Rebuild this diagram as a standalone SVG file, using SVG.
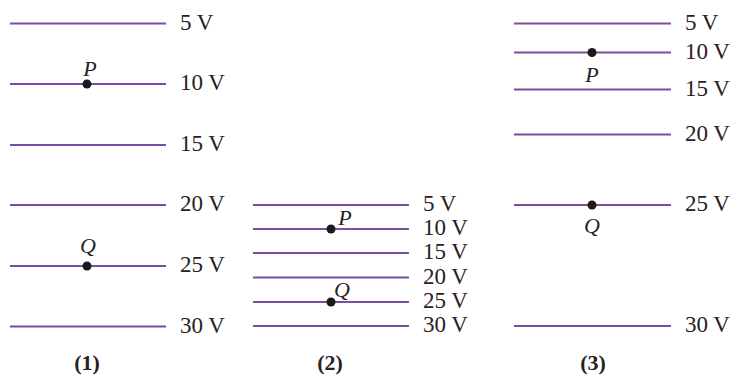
<svg xmlns="http://www.w3.org/2000/svg" width="731" height="375" viewBox="0 0 731 375">
<style>
.ln{stroke:#7a4fa2;stroke-width:2.2;fill:none}
.lb{font-family:"Liberation Serif",serif;font-size:23px;fill:#2a211e}
.it{font-family:"Liberation Serif",serif;font-size:22px;font-style:italic;fill:#2a211e}
.cap{font-family:"Liberation Serif",serif;font-size:22px;font-weight:bold;fill:#2a211e}
.dot{fill:#1a1a1a}
</style>
<rect width="731" height="375" fill="#fff"/>
<g id="panel1">
<g class="ln">
<line x1="10" y1="23.5" x2="166" y2="23.5"/>
<line x1="10" y1="84" x2="166" y2="84"/>
<line x1="10" y1="145" x2="166" y2="145"/>
<line x1="10" y1="205" x2="166" y2="205"/>
<line x1="10" y1="266" x2="166" y2="266"/>
<line x1="10" y1="326.5" x2="166" y2="326.5"/>
</g>
<g class="lb">
<text x="180" y="29.5">5 V</text>
<text x="180" y="90">10 V</text>
<text x="180" y="151">15 V</text>
<text x="180" y="211">20 V</text>
<text x="180" y="272">25 V</text>
<text x="180" y="332.5">30 V</text>
</g>
<circle class="dot" cx="87" cy="84" r="4.5"/>
<text class="it" x="90" y="76" text-anchor="middle">P</text>
<circle class="dot" cx="87" cy="266" r="4.5"/>
<text class="it" x="88" y="253" text-anchor="middle">Q</text>
<text class="cap" x="87" y="370" text-anchor="middle">(1)</text>
</g>
<g id="panel2">
<g class="ln">
<line x1="253" y1="205" x2="409" y2="205"/>
<line x1="253" y1="229" x2="409" y2="229"/>
<line x1="253" y1="253" x2="409" y2="253"/>
<line x1="253" y1="277.5" x2="409" y2="277.5"/>
<line x1="253" y1="302" x2="409" y2="302"/>
<line x1="253" y1="326" x2="409" y2="326"/>
</g>
<g class="lb">
<text x="423" y="211">5 V</text>
<text x="423" y="235">10 V</text>
<text x="423" y="259">15 V</text>
<text x="423" y="283.5">20 V</text>
<text x="423" y="308">25 V</text>
<text x="423" y="332">30 V</text>
</g>
<circle class="dot" cx="331" cy="229" r="4.5"/>
<text class="it" x="345" y="225" text-anchor="middle">P</text>
<circle class="dot" cx="331" cy="302" r="4.5"/>
<text class="it" x="342" y="297" text-anchor="middle">Q</text>
<text class="cap" x="330" y="370" text-anchor="middle">(2)</text>
</g>
<g id="panel3">
<g class="ln">
<line x1="514" y1="23.5" x2="671" y2="23.5"/>
<line x1="514" y1="52.5" x2="671" y2="52.5"/>
<line x1="514" y1="89.5" x2="671" y2="89.5"/>
<line x1="514" y1="134.5" x2="671" y2="134.5"/>
<line x1="514" y1="205" x2="671" y2="205"/>
<line x1="514" y1="326" x2="671" y2="326"/>
</g>
<g class="lb">
<text x="685" y="29.5">5 V</text>
<text x="685" y="58.5">10 V</text>
<text x="685" y="95.5">15 V</text>
<text x="685" y="140.5">20 V</text>
<text x="685" y="211">25 V</text>
<text x="685" y="332">30 V</text>
</g>
<circle class="dot" cx="592" cy="52.5" r="4.5"/>
<text class="it" x="592" y="82" text-anchor="middle">P</text>
<circle class="dot" cx="592" cy="205" r="4.5"/>
<text class="it" x="592" y="233" text-anchor="middle">Q</text>
<text class="cap" x="593" y="370" text-anchor="middle">(3)</text>
</g>
</svg>
